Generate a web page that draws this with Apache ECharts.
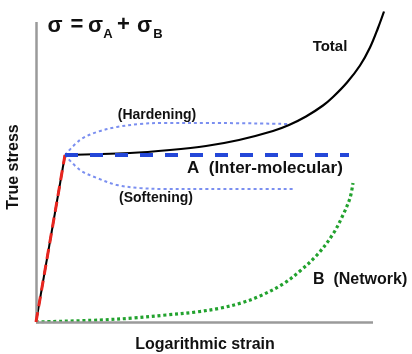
<!DOCTYPE html>
<html>
<head>
<meta charset="utf-8">
<script src="https://cdn.jsdelivr.net/npm/echarts@6/dist/echarts.min.js"></script>
<style>
  html, body { margin: 0; padding: 0; background: #ffffff; }
  #chart { width: 412px; height: 354px; }
</style>
</head>
<body>
<div id="chart"></div>
<script>
// ---- data (strain, stress) in arbitrary units ----
const xRange = [0, 354];
const yRange = [0, 312];
const xAxisEnd = 337;
const yAxisEnd = 300;

const elasticLine = [[0, 0], [29, 167]];
const totalCurve = [[29, 167], [94, 169], [134, 172], [170, 176], [203, 182], [237, 191], [253, 197],
  [270, 205.5], [287, 216.5], [297, 225], [311, 239.5], [324, 256.5], [334, 274.5], [342, 294], [348, 310.5]];
const interMolecular = [[29, 167], [313, 167]];
const hardeningCurve = [[29, 167], [44, 182], [61, 190], [81, 195], [104, 198], [127, 199], [174, 199], [253, 198]];
const softeningCurve = [[29, 167], [44, 152], [61, 144], [81, 137], [104, 134], [127, 133], [174, 133], [258, 133]];
const networkCurve = [[0, 0], [64, 2], [97, 4], [130, 7], [160, 10], [185, 14], [205, 19], [224, 26],
  [247, 38], [264, 51], [281, 67], [297, 88], [307, 107], [314, 124], [317, 139]];

const xAxisName = 'Logarithmic strain';
const yAxisName = 'True stress';
const labelTotal = 'Total';
const labelHard = '(Hardening)';
const labelSoft = '(Softening)';
const labelA = 'A  (Inter-molecular)';
const labelB = 'B  (Network)';

const chart = echarts.init(document.getElementById('chart'), null, { renderer: 'canvas' });

function txt(x, y, text, font, align, rotation) {
  return {
    type: 'text', x: x, y: y, rotation: rotation || 0, z: 100,
    style: { text: text, font: font, fill: '#111', align: align || 'center', verticalAlign: 'middle' }
  };
}

const FF = '"Liberation Sans", Arial, sans-serif';

chart.setOption({
  animation: false,
  backgroundColor: '#ffffff',
  grid: { left: 36, right: 22, top: 10, bottom: 32 },
  xAxis: { type: 'value', min: xRange[0], max: xRange[1], show: false },
  yAxis: { type: 'value', min: yRange[0], max: yRange[1], show: false },
  series: [
    {
      type: 'line', data: [], silent: true, z: 1,
      markLine: {
        silent: true, symbol: 'none', label: { show: false },
        lineStyle: { color: '#9a9a9a', width: 2.5, type: 'solid' },
        data: [
          [{ coord: [0, 0] }, { coord: [xAxisEnd, 0] }],
          [{ coord: [0, 0] }, { coord: [0, yAxisEnd] }]
        ]
      }
    },
    {
      name: 'Hardening', type: 'line', data: hardeningCurve, smooth: 0.35, showSymbol: false, z: 2,
      lineStyle: { color: '#7b8ff0', width: 2, type: [3, 3] }
    },
    {
      name: 'Softening', type: 'line', data: softeningCurve, smooth: 0.35, showSymbol: false, z: 2,
      lineStyle: { color: '#7b8ff0', width: 2, type: [3, 3] }
    },
    {
      name: 'Network', type: 'line', data: networkCurve, smooth: 0.35, showSymbol: false, z: 3,
      lineStyle: { color: '#22a22e', width: 3.2, type: [3, 2.8] }
    },
    {
      name: 'TotalElastic', type: 'line', data: elasticLine, showSymbol: false, z: 4,
      lineStyle: { color: '#000000', width: 2 }
    },
    {
      name: 'Total', type: 'line', data: totalCurve, smooth: 0.35, showSymbol: false, z: 4,
      lineStyle: { color: '#000000', width: 2.2 }
    },
    {
      name: 'Elastic', type: 'line', data: elasticLine, showSymbol: false, z: 5,
      lineStyle: { color: '#e8251f', width: 3, type: [10, 6] }
    },
    {
      name: 'A', type: 'line', data: interMolecular, showSymbol: false, z: 5,
      lineStyle: { color: '#2447d8', width: 4, type: [13, 12] }
    }
  ],
  graphic: [
    txt(55, 26, 'σ', 'bold 22px ' + FF),
    txt(77, 25, '=', 'bold 22px ' + FF),
    txt(95.5, 26, 'σ', 'bold 22px ' + FF),
    txt(108, 34, 'A', 'bold 13px ' + FF),
    txt(123.5, 25, '+', 'bold 22px ' + FF),
    txt(144.5, 26, 'σ', 'bold 22px ' + FF),
    txt(158, 34, 'B', 'bold 13px ' + FF),
    txt(330, 47, labelTotal, 'bold 15px ' + FF),
    txt(157, 115, labelHard, 'bold 14px ' + FF),
    txt(156, 198, labelSoft, 'bold 14px ' + FF),
    txt(187, 168, labelA, 'bold 17px ' + FF, 'left'),
    txt(313, 280, labelB, 'bold 16px ' + FF, 'left'),
    txt(14, 167, yAxisName, 'bold 16px ' + FF, 'center', Math.PI / 2),
    txt(205, 345, xAxisName, 'bold 16px ' + FF)
  ]
});
</script>
</body>
</html>
